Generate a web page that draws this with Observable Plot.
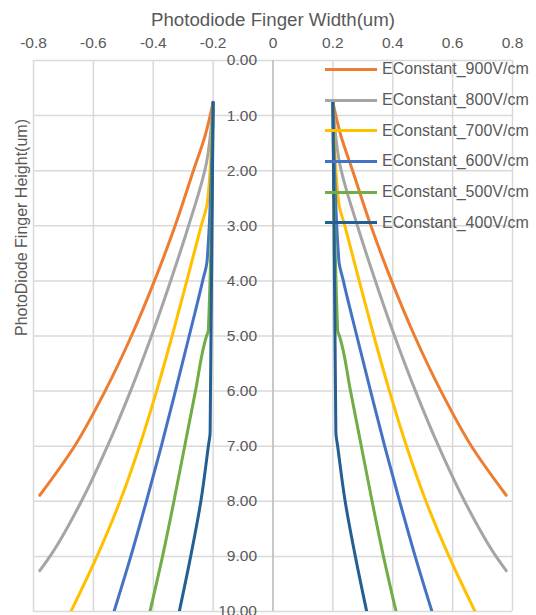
<!DOCTYPE html>
<html><head><meta charset="utf-8">
<script src="https://cdn.jsdelivr.net/npm/d3@7"></script>
<script src="https://cdn.jsdelivr.net/npm/@observablehq/plot@0.6"></script>
<style>
body{margin:0;background:#fff;}
#chart{position:relative;width:536px;height:615px;font-family:"Liberation Sans",Arial,sans-serif;}
#legend{position:absolute;left:325px;top:54px;}
.row{display:flex;align-items:center;height:30.7px;}
.sw{width:52px;height:0;border-top:3.5px solid;margin-right:5px;}
.lab{font-size:16px;color:#595959;white-space:nowrap;line-height:16px;}
</style></head><body><div id="chart"></div>
<script>
const seriesNames = ["EConstant_900V/cm","EConstant_800V/cm","EConstant_700V/cm","EConstant_600V/cm","EConstant_500V/cm","EConstant_400V/cm"];
const seriesColors = ["#ED7D31","#A5A5A5","#FFC000","#4472C4","#70AD47","#255E91"];
const xTicks = [-0.8,-0.6,-0.4,-0.2,0,0.2,0.4,0.6,0.8];
const yTicks = [0,1,2,3,4,5,6,7,8,9,10];
const xTitle = "Photodiode Finger Width(um)";
const yTitle = "PhotoDiode Finger Height(um)";

// half-width (um) of each curve vs height (um); left branch is the mirror image
const h900 = [0.76, 1.35, 2, 3, 4, 5, 6, 7, 7.89];
const w900 = [0.2, 0.226, 0.266, 0.327, 0.396, 0.473, 0.561, 0.663, 0.779];
const h800 = [0.76, 1.85, 3, 4, 5, 6, 7, 8, 9, 9.26];
const w800 = [0.2, 0.222, 0.282, 0.342, 0.406, 0.476, 0.553, 0.64, 0.745, 0.779];
const h700 = [0.76, 2.57, 3, 4, 5, 6, 7, 8, 9, 10];
const w700 = [0.2, 0.219, 0.24, 0.288, 0.337, 0.389, 0.446, 0.511, 0.588, 0.675];
const h600 = [0.76, 3.63, 4, 5, 6, 7, 8, 9, 10];
const w600 = [0.2, 0.22, 0.235, 0.28, 0.326, 0.373, 0.423, 0.475, 0.531];
const h500 = [0.76, 4.9, 5, 6, 7, 8, 9, 10];
const w500 = [0.2, 0.216, 0.222, 0.259, 0.295, 0.331, 0.369, 0.411];
const h400 = [0.76, 6.75, 7, 8, 9, 10];
const w400 = [0.2, 0.21, 0.216, 0.241, 0.275, 0.313];

const H = [h900,h800,h700,h600,h500,h400];
const W = [w900,w800,w700,w600,w500,w400];
const rows = [];
seriesNames.forEach((s, i) => {
  for (const side of [-1, 1]) {
    H[i].forEach((h, j) => rows.push({series: s, key: s + side, x: side * W[i][j], y: h}));
  }
});

const txt = "#595959";
const plot = Plot.plot({
  width: 536, height: 615,
  marginTop: 60, marginBottom: 4, marginLeft: 33, marginRight: 24,
  style: {fontFamily: '"Liberation Sans", Arial, sans-serif', fontSize: "15.5px", background: "#fff"},
  x: {domain: [-0.8, 0.8]},
  y: {domain: [0, 10], reverse: true, axis: null},
  color: {domain: seriesNames, range: seriesColors},
  marks: [
    Plot.gridX(xTicks, {stroke: "#d9d9d9", strokeOpacity: 1, strokeWidth: 1.5}),
    Plot.gridY(yTicks, {stroke: "#d9d9d9", strokeOpacity: 1, strokeWidth: 1.5}),
    Plot.ruleX([0], {stroke: "#bfbfbf", strokeWidth: 1.5}),
    Plot.axisX(xTicks, {anchor: "top", tickSize: 0, tickPadding: 13, label: null,
      tickFormat: d => d === 0 ? "0" : d.toFixed(1), fill: txt, fontSize: 15.5}),
    Plot.text(yTicks, {x: () => 0, y: d => d, text: d => d.toFixed(2), textAnchor: "end", dx: -16,
      fill: txt, fontSize: 15.5}),
    Plot.line(rows, {x: "x", y: "y", z: "key", stroke: "series", strokeWidth: 3, clip: true,
      curve: "monotone-y", strokeLinejoin: "round"}),
    Plot.text([xTitle], {frameAnchor: "top", lineAnchor: "bottom", dy: -34.6, fontSize: 18.7, fill: txt}),
    Plot.text([yTitle], {frameAnchor: "left", rotate: -90, dx: -11.6, fontSize: 16, fill: txt})
  ]
});
const chart = document.getElementById("chart");
chart.appendChild(plot);
const lg = document.createElement("div");
lg.id = "legend";
seriesNames.forEach((s, i) => {
  const r = document.createElement("div"); r.className = "row";
  const sw = document.createElement("div"); sw.className = "sw"; sw.style.borderTopColor = seriesColors[i];
  const lb = document.createElement("div"); lb.className = "lab"; lb.textContent = s;
  r.appendChild(sw); r.appendChild(lb); lg.appendChild(r);
});
chart.appendChild(lg);
</script></body></html>
